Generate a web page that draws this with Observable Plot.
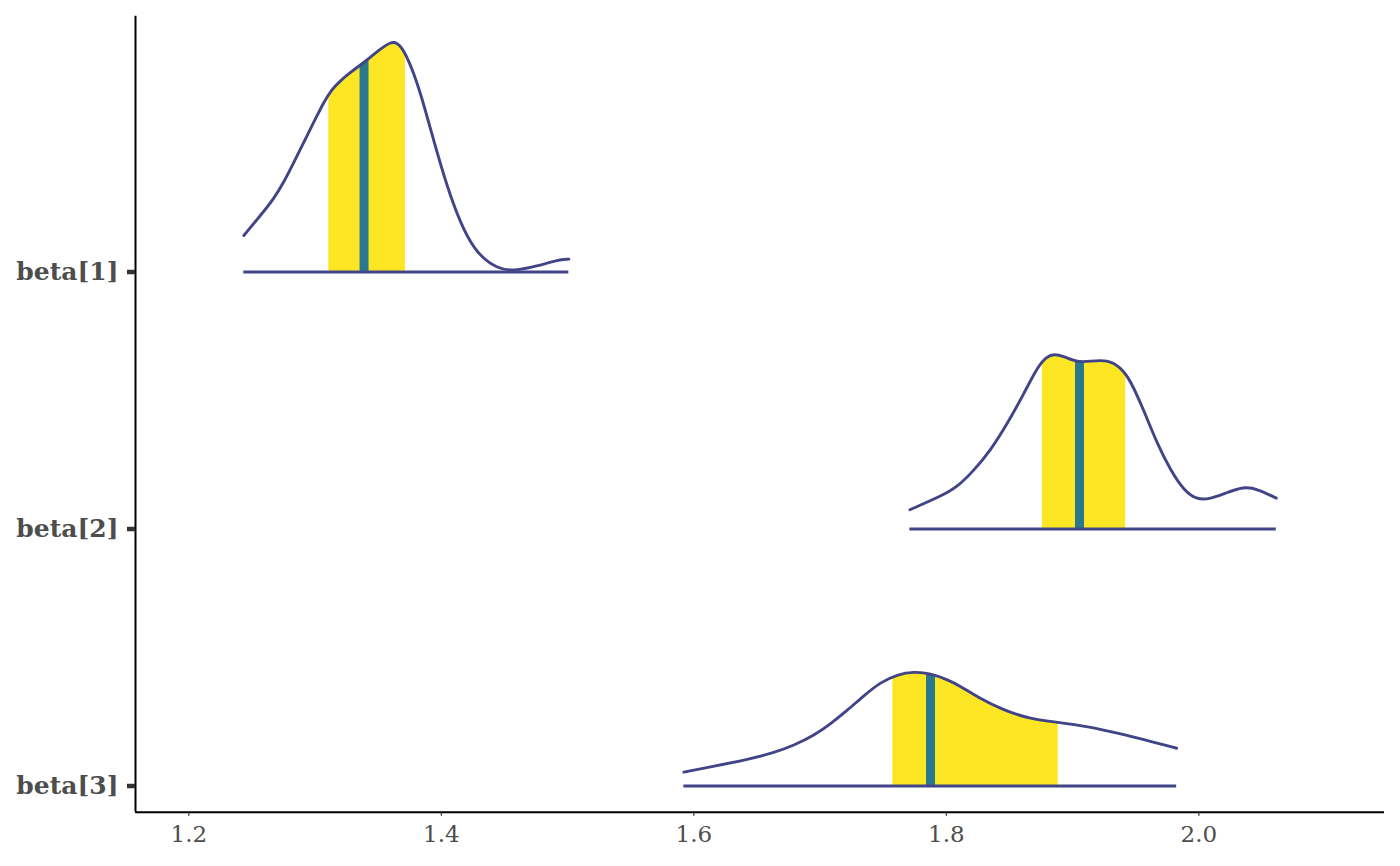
<!DOCTYPE html>
<html>
<head>
<meta charset="utf-8">
<script src="https://cdn.jsdelivr.net/npm/d3@7"></script>
<script src="https://cdn.jsdelivr.net/npm/@observablehq/plot@0.6"></script>
<style>
  html, body { margin: 0; padding: 0; background: #ffffff; }
  #chart svg { display: block; }
  g[aria-label="x-axis tick label"], g[aria-label="x-axis tick label"] text,
  g[aria-label="y-axis tick label"], g[aria-label="y-axis tick label"] text { fill: #4d4d4d; }
  g[aria-label="y-axis tick label"], g[aria-label="y-axis tick label"] text { font-weight: bold; }
</style>
</head>
<body>
<div id="chart"></div>
<script>
// ---- data ----
const parameters = ["beta[1]", "beta[2]", "beta[3]"];
const rowIndex = [2, 1, 0];          // vertical position of each parameter's ridge
const xTicks = [1.2, 1.4, 1.6, 1.8, 2.0];

// scaled posterior densities (height in units of row spacing)
const beta1X = [1.2436,1.2568,1.2673,1.2752,1.2832,1.2911,1.2990,1.3069,1.3136,1.3202,1.3281,1.3360,1.3439,1.3518,1.3598,1.3651,1.3703,1.3782,1.3861,1.3968,1.4073,1.4178,1.4284,1.4443,1.4574,1.4760,1.4918,1.5010];
const beta1Density = [0.142,0.220,0.285,0.349,0.427,0.505,0.583,0.661,0.713,0.745,0.777,0.806,0.836,0.868,0.895,0.893,0.864,0.776,0.654,0.460,0.291,0.161,0.071,0.012,0.004,0.023,0.047,0.050];

const beta2X = [1.7711,1.7954,1.8086,1.8218,1.8350,1.8482,1.8614,1.8720,1.8799,1.8851,1.8931,1.9037,1.9142,1.9274,1.9380,1.9459,1.9564,1.9670,1.9776,1.9881,1.9987,2.0092,2.0198,2.0356,2.0462,2.0613];
const beta2Density = [0.075,0.127,0.163,0.228,0.306,0.409,0.526,0.630,0.672,0.681,0.672,0.648,0.653,0.659,0.630,0.578,0.461,0.332,0.228,0.150,0.113,0.118,0.137,0.166,0.156,0.120];

const beta3X = [1.5921,1.6158,1.6423,1.6634,1.6792,1.6950,1.7083,1.7215,1.7347,1.7479,1.7611,1.7743,1.7875,1.8007,1.8113,1.8245,1.8455,1.8667,1.8878,1.9116,1.9380,1.9591,1.9824];
const beta3Density = [0.054,0.077,0.103,0.129,0.158,0.196,0.242,0.294,0.352,0.404,0.434,0.445,0.438,0.414,0.388,0.346,0.294,0.261,0.248,0.232,0.203,0.177,0.147];

// 50% intervals and medians
const innerLow  = [1.3109, 1.8760, 1.7576];
const innerHigh = [1.3716, 1.9420, 1.8886];
const medians   = [1.3392, 1.9059, 1.7879];

// ---- build tables ----
const curveX = [beta1X, beta2X, beta3X];
const curveD = [beta1Density, beta2Density, beta3Density];
const curves = parameters.map((p, i) => curveX[i].map((x, j) => ({
  parameter: p, row: rowIndex[i], x, top: rowIndex[i] + curveD[i][j]
})));
const curveData = curves.flat();
const baselines = parameters.map((p, i) => {
  const [lo, hi] = d3.extent(curveX[i]);
  return {parameter: p, row: rowIndex[i], lo, hi};
});

const xDomain = [1.1578, 2.147];
const yDomain = [-0.1019, 2.9954];
const lineColor = "#414487";
const innerFill = "#FDE725";
const medianColor = "#2A788E";
const curveType = "basis";

const plot = Plot.plot({
  width: 1400,
  height: 866,
  marginLeft: 135,
  marginRight: 16,
  marginTop: 15.7,
  marginBottom: 54.3,
  style: {fontFamily: "'DejaVu Serif', serif", background: "#ffffff", overflow: "visible"},
  x: {domain: xDomain},
  y: {domain: yDomain},
  marks: [
    ...curves.map(c => Plot.areaY(c, {x: "x", y1: "row", y2: "top", fill: innerFill, curve: curveType})),
    ...curves.map(c => Plot.areaY(c, {x: "x", y1: "row", y2: "top", fill: medianColor, curve: curveType})),
    Plot.ruleY(baselines, {x1: "lo", x2: "hi", y: "row", stroke: lineColor, strokeWidth: 2.8}),
    Plot.line(curveData, {x: "x", y: "top", z: "parameter", stroke: lineColor, strokeWidth: 2.9, curve: curveType}),
    Plot.ruleX([xDomain[0]], {stroke: "#000000", strokeWidth: 2}),
    Plot.ruleY([yDomain[0]], {stroke: "#000000", strokeWidth: 2}),
    Plot.axisX({ticks: xTicks, tickFormat: d3.format(".1f"), tickSize: 4, tickPadding: 9.5,
      fontSize: 23, fill: "#4d4d4d", stroke: "#333333", label: null}),
    Plot.axisY({ticks: rowIndex, tickFormat: d => parameters[rowIndex.indexOf(d)], tickSize: 8, tickPadding: 9,
      fontSize: 25, fontWeight: "bold", fill: "#4d4d4d", stroke: "#333333", strokeWidth: 4, label: null})
  ]
});

// thicker y ticks / thin x ticks (ggplot-like)
plot.querySelectorAll('g[aria-label="y-axis tick"]').forEach(g => {
  g.setAttribute("stroke-width", 4.5);
  g.querySelectorAll("path, line").forEach(p => p.setAttribute("stroke-width", 4.5));
});
plot.querySelectorAll('g[aria-label="x-axis tick"]').forEach(g => {
  g.setAttribute("stroke-width", 1.2);
});

// clip the filled areas to the 50% interval and the median band, using the plot's x scale
const xs = plot.scale("x");
const svgNS = "http://www.w3.org/2000/svg";
const defs = document.createElementNS(svgNS, "defs");
plot.insertBefore(defs, plot.firstChild);
const areaGroups = plot.querySelectorAll('g[aria-label="area"]');
const clipRanges = [
  ...innerLow.map((lo, i) => [xs.apply(lo), xs.apply(innerHigh[i])]),
  ...medians.map(m => [xs.apply(m) - 4.5, xs.apply(m) + 4.5])
];
areaGroups.forEach((g, i) => {
  const [a, b] = clipRanges[i];
  const cp = document.createElementNS(svgNS, "clipPath");
  cp.setAttribute("id", "clip-area-" + i);
  const r = document.createElementNS(svgNS, "rect");
  r.setAttribute("x", a); r.setAttribute("y", 0);
  r.setAttribute("width", b - a); r.setAttribute("height", 866);
  cp.appendChild(r); defs.appendChild(cp);
  g.setAttribute("clip-path", "url(#clip-area-" + i + ")");
});

document.getElementById("chart").appendChild(plot);
</script>
</body>
</html>
